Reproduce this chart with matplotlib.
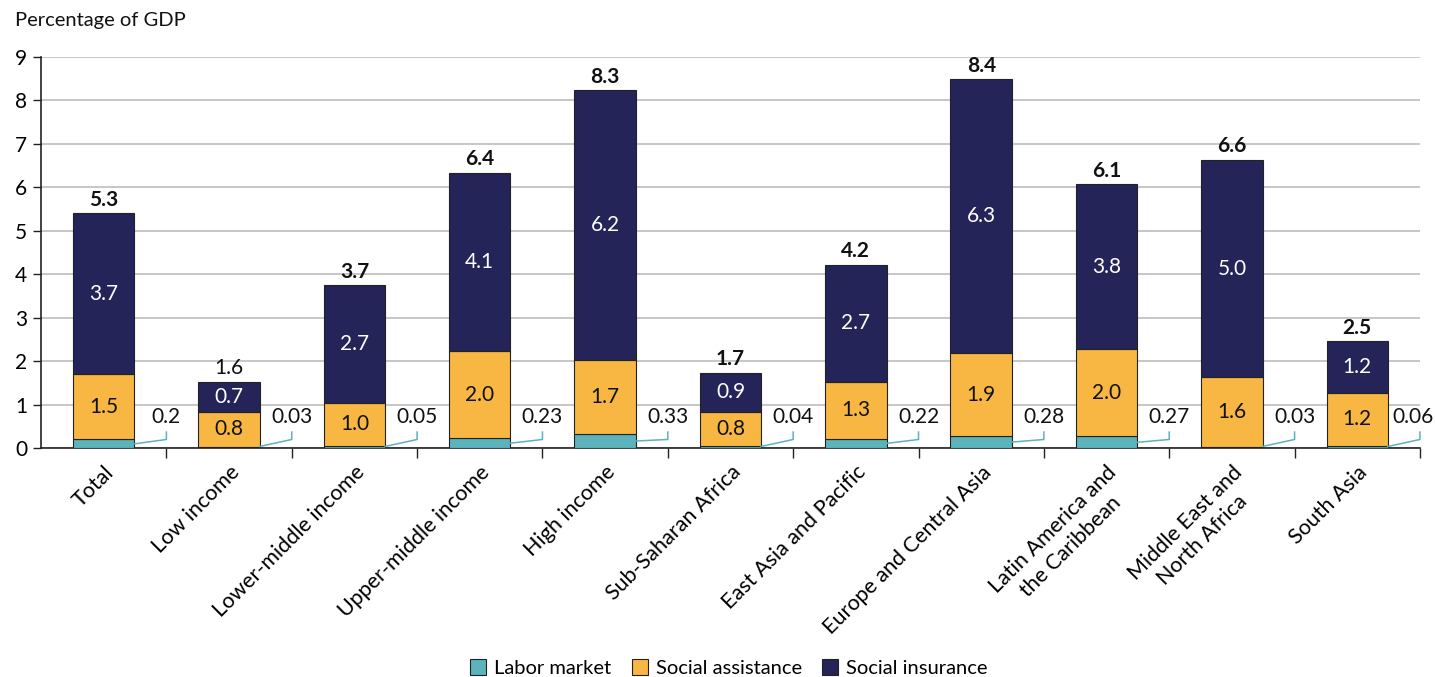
import matplotlib.pyplot as plt
import numpy as np
from matplotlib.patches import Patch

plt.rcParams['font.family'] = ['Lato', 'DejaVu Sans']

regions = ['Total', 'Low income', 'Lower-middle income', 'Upper-middle income',
           'High income', 'Sub-Saharan Africa', 'East Asia and Pacific',
           'Europe and Central Asia', 'Latin America and\nthe Caribbean',
           'Middle East and\nNorth Africa', 'South Asia']
labor_market = [0.2, 0.03, 0.05, 0.23, 0.33, 0.04, 0.22, 0.28, 0.27, 0.03, 0.06]
labor_labels = ['0.2', '0.03', '0.05', '0.23', '0.33', '0.04', '0.22', '0.28', '0.27', '0.03', '0.06']
social_assistance = [1.5, 0.8, 1.0, 2.0, 1.7, 0.8, 1.3, 1.9, 2.0, 1.6, 1.2]
social_insurance = [3.7, 0.7, 2.7, 4.1, 6.2, 0.9, 2.7, 6.3, 3.8, 5.0, 1.2]
totals = [5.3, 1.6, 3.7, 6.4, 8.3, 1.7, 4.2, 8.4, 6.1, 6.6, 2.5]
bold_total = [True, False, True, True, True, True, True, True, True, True, True]

c_labor = '#5cb3bb'
c_assist = '#f7b742'
c_insur = '#242459'

fig = plt.figure(figsize=(14.35, 6.77), dpi=100)
ax = fig.add_axes([0.0286, 0.338, 0.9609, 0.578])

x = np.arange(len(regions))
lab = np.array(labor_market)
asst = np.array(social_assistance)
ins = np.array(social_insurance)
w = 0.49

ax.bar(x, lab, w, color=c_labor, edgecolor='#222222', linewidth=0.8, zorder=3)
ax.bar(x, asst, w, bottom=lab, color=c_assist, edgecolor='#222222', linewidth=0.8, zorder=3)
ax.bar(x, ins, w, bottom=lab + asst, color=c_insur, edgecolor='#222222', linewidth=0.8, zorder=3)

fs = 15
for i in range(len(regions)):
    ax.text(x[i], lab[i] + asst[i] / 2, f'{asst[i]:.1f}', ha='center', va='center',
            fontsize=fs, color='#111111', zorder=4)
    ax.text(x[i], lab[i] + asst[i] + ins[i] / 2, f'{ins[i]:.1f}', ha='center', va='center',
            fontsize=fs, color='white', zorder=4)
    top = lab[i] + asst[i] + ins[i]
    ax.text(x[i], top + 0.08, f'{totals[i]:.1f}', ha='center', va='bottom', fontsize=fs,
            fontweight='bold' if bold_total[i] else 'normal', color='#111111', zorder=4)
    # leader line from the thin labor-market segment to its label
    xe = x[i] + w / 2
    xb = x[i] + 0.5
    ax.plot([xe, xb, xb], [max(lab[i] / 2, 0.04), 0.2, 0.37], color=c_labor,
            linewidth=1.1, zorder=4, clip_on=False, solid_joinstyle='miter')
    last = i == len(regions) - 1
    ax.text(xb + (0.11 if last else 0), 0.71, labor_labels[i],
            ha='right' if last else 'center', va='center', fontsize=fs,
            color='#111111', zorder=4, clip_on=False)

ax.set_xlim(-0.5, len(regions) - 0.5)
ax.set_ylim(0, 9)
ax.set_yticks(range(10))
ax.tick_params(axis='y', labelsize=fs, length=6, width=1, color='#222222', pad=4)
ax.yaxis.grid(True, color='#bdbdbd', linewidth=1.2, zorder=0)
ax.set_axisbelow(True)

ax.set_xticks(np.arange(len(regions)) + 0.5)
ax.set_xticklabels([])
ax.tick_params(axis='x', which='major', direction='out', length=7, width=1, color='#222222')
ax.set_xticks(x, minor=True)
ax.set_xticklabels(regions, minor=True, rotation=45, ha='right', rotation_mode='anchor',
                   fontsize=15.5, multialignment='center', linespacing=1.3)
ax.tick_params(axis='x', which='minor', length=0, pad=10)

for s in ['top', 'right']:
    ax.spines[s].set_visible(False)
for s in ['left', 'bottom']:
    ax.spines[s].set_color('#222222')
    ax.spines[s].set_linewidth(1.2)

fig.text(0.0105, 0.97, 'Percentage of GDP', ha='left', va='center', fontsize=14.5, color='#111111')

handles = [Patch(facecolor=c_labor, edgecolor='#222222', linewidth=0.8),
           Patch(facecolor=c_assist, edgecolor='#222222', linewidth=0.8),
           Patch(facecolor=c_insur, edgecolor='#222222', linewidth=0.8)]
fig.legend(handles, ['Labor market', 'Social assistance', 'Social insurance'],
           loc='center', bbox_to_anchor=(0.508, 0.013), ncol=3, frameon=False,
           fontsize=14.5, handlelength=0.8, handleheight=0.8, handletextpad=0.4,
           columnspacing=1.0)

fig.savefig('out.png', dpi=100)
